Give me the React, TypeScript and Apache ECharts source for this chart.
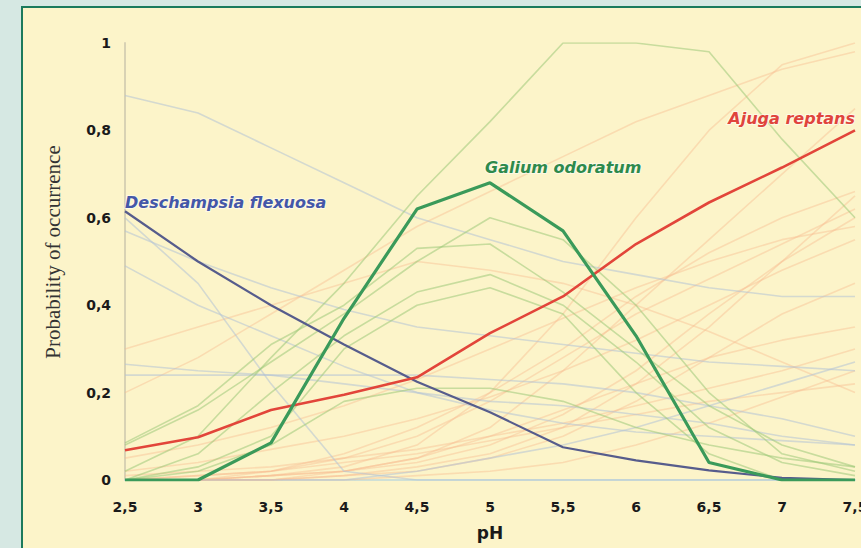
import React, { useEffect, useRef } from "react";
import * as echarts from "echarts";

const PH = [2.5, 3, 3.5, 4, 4.5, 5, 5.5, 6, 6.5, 7, 7.5];
const Y_TICKS = [0, 0.2, 0.4, 0.6, 0.8, 1];

const DESCHAMPSIA = [0.615, 0.5, 0.4, 0.31, 0.225, 0.155, 0.075, 0.045, 0.022, 0.005, 0];
const AJUGA = [0.068, 0.098, 0.16, 0.195, 0.235, 0.336, 0.42, 0.54, 0.635, 0.715, 0.8];
const GALIUM = [0, 0, 0.085, 0.37, 0.62, 0.68, 0.57, 0.33, 0.04, 0, 0];

const BG_GREEN = [
  [0.02, 0.1, 0.28, 0.45, 0.65, 0.82, 1.0, 1.0, 0.98, 0.78, 0.6],
  [0.085, 0.17, 0.31, 0.4, 0.53, 0.54, 0.43, 0.3, 0.17, 0.08, 0.03],
  [0.0, 0.06, 0.2, 0.33, 0.43, 0.47, 0.4, 0.27, 0.12, 0.04, 0.01],
  [0.0, 0.03, 0.1, 0.3, 0.4, 0.44, 0.38, 0.2, 0.06, 0.0, 0.0],
  [0.0, 0.02, 0.08, 0.18, 0.21, 0.21, 0.18, 0.12, 0.08, 0.05, 0.03],
  [0.08, 0.16, 0.27, 0.38, 0.5, 0.6, 0.55, 0.4, 0.2, 0.06, 0.02],
];

const BG_BLUE = [
  [0.88, 0.84, 0.76, 0.68, 0.6, 0.55, 0.5, 0.47, 0.44, 0.42, 0.42],
  [0.6, 0.45, 0.22, 0.02, 0, 0, 0, 0, 0, 0, 0],
  [0.49, 0.4, 0.33, 0.26, 0.2, 0.16, 0.13, 0.11, 0.1, 0.09, 0.08],
  [0.265, 0.25, 0.24, 0.22, 0.2, 0.18, 0.17, 0.15, 0.13, 0.1, 0.08],
  [0.24, 0.24, 0.24, 0.24, 0.24, 0.23, 0.22, 0.2, 0.17, 0.14, 0.1],
  [0.0, 0.0, 0.0, 0.0, 0.02, 0.05, 0.08, 0.12, 0.17, 0.22, 0.27],
  [0.57, 0.5, 0.44, 0.39, 0.35, 0.33, 0.31, 0.29, 0.27, 0.26, 0.25],
];

const BG_ORANGE = [
  [0, 0, 0.01, 0.03, 0.08, 0.2, 0.38, 0.6, 0.8, 0.95, 1.0],
  [0, 0, 0, 0.02, 0.05, 0.12, 0.25, 0.4, 0.55, 0.7, 0.85],
  [0, 0.01, 0.02, 0.05, 0.1, 0.18, 0.28, 0.38, 0.46, 0.54, 0.62],
  [0, 0, 0.01, 0.02, 0.04, 0.08, 0.15, 0.25, 0.38, 0.5, 0.6],
  [0.02, 0.04, 0.07, 0.1, 0.14, 0.19, 0.25, 0.32, 0.4, 0.48, 0.55],
  [0, 0, 0, 0.01, 0.02, 0.05, 0.1, 0.18, 0.28, 0.38, 0.45],
  [0, 0, 0.01, 0.02, 0.05, 0.1, 0.16, 0.22, 0.28, 0.32, 0.35],
  [0.01, 0.02, 0.03, 0.05, 0.07, 0.1, 0.13, 0.17, 0.21, 0.25, 0.3],
  [0, 0, 0, 0, 0.01, 0.02, 0.04, 0.08, 0.13, 0.19, 0.25],
  [0.2, 0.28, 0.38, 0.48, 0.58, 0.66, 0.74, 0.82, 0.88, 0.94, 0.98],
  [0.05, 0.08, 0.12, 0.17, 0.23, 0.3, 0.37, 0.44, 0.5, 0.55, 0.58],
  [0, 0, 0, 0.01, 0.03, 0.06, 0.12, 0.22, 0.35, 0.5, 0.65],
  [0.0, 0.01, 0.02, 0.04, 0.06, 0.09, 0.12, 0.15, 0.18, 0.2, 0.22],
  [0.0, 0.0, 0.02, 0.06, 0.12, 0.2, 0.3, 0.42, 0.52, 0.6, 0.66],
  [0.3, 0.35, 0.4, 0.45, 0.5, 0.48, 0.45, 0.4, 0.34, 0.27, 0.2],
];

const pairs = (vals: number[]) => PH.map((x, i) => [x, vals[i]]);
const comma = (v: number) => String(v).replace(".", ",");

export default function App() {
  const ref = useRef<HTMLDivElement>(null);
  useEffect(() => {
    if (!ref.current) return;
    const chart = echarts.init(ref.current, undefined, { renderer: "svg" });
    const bg = (vals: number[], color: string, opacity: number) => ({
      type: "line",
      data: pairs(vals),
      showSymbol: false,
      silent: true,
      lineStyle: { color, width: 1.6, opacity },
    });
    const labelled = (
      vals: number[],
      color: string,
      width: number,
      labelIdx: number,
      text: string,
      labelColor: string,
      align: string,
      distance: number,
      offset: number[]
    ) => ({
      type: "line",
      symbol: "circle",
      symbolSize: 0,
      showSymbol: true,
      silent: true,
      lineStyle: { color, width },
      itemStyle: { color },
      data: pairs(vals).map((p, i) =>
        i === labelIdx
          ? {
              value: p,
              label: {
                show: true,
                position: "top",
                distance,
                offset,
                align,
                formatter: text,
                color: labelColor,
                fontFamily: "DejaVu Sans",
                fontWeight: "bold",
                fontStyle: "italic",
                fontSize: 16,
                textBorderColor: "rgba(255,255,255,0.55)",
                textBorderWidth: 2,
              },
            }
          : { value: p }
      ),
    });
    const series: any[] = [
      ...BG_ORANGE.map((v) => bg(v, "#f7b98e", 0.42)),
      ...BG_BLUE.map((v) => bg(v, "#b3c3d6", 0.55)),
      ...BG_GREEN.map((v) => bg(v, "#9cc878", 0.55)),
      labelled(DESCHAMPSIA, "#565c8c", 2.2, 0, "Deschampsia flexuosa", "#4457a8", "left", 1, [0, 0]),
      labelled(AJUGA, "#e2453a", 2.6, 10, "Ajuga reptans", "#e0443c", "right", 4, [0, 0]),
      labelled(GALIUM, "#3a9a5a", 3.2, 5, "Galium odoratum", "#2e8a4c", "left", 7, [-5, 0]),
    ];
    chart.setOption({
      animation: false,
      backgroundColor: "transparent",
      grid: {
        left: 125,
        right: 6,
        top: 43,
        bottom: 68,
        containLabel: false,
        outerBoundsMode: "none",
      },
      xAxis: {
        type: "value",
        min: 2.5,
        max: 7.5,
        interval: 0.5,
        name: "pH",
        nameLocation: "middle",
        nameGap: 44,
        nameTextStyle: { fontFamily: "DejaVu Sans", fontWeight: "bold", fontSize: 17, color: "#1a1a1a" },
        axisLine: { show: true, lineStyle: { color: "#cfe0d6", width: 2 } },
        axisTick: { show: false },
        splitLine: { show: false },
        axisLabel: {
          margin: 20,
          formatter: (v: number) => comma(v),
          fontFamily: "DejaVu Sans",
          fontWeight: "bold",
          fontSize: 14,
          color: "#1a1a1a",
        },
      },
      yAxis: {
        type: "value",
        min: Y_TICKS[0],
        max: Y_TICKS[Y_TICKS.length - 1],
        interval: 0.2,
        axisLine: { show: true, lineStyle: { color: "#d8d2b4", width: 2 } },
        axisTick: { show: false },
        splitLine: { show: false },
        axisLabel: {
          margin: 14,
          formatter: (v: number) => comma(Math.round(v * 10) / 10),
          fontFamily: "DejaVu Sans",
          fontWeight: "bold",
          fontSize: 14,
          color: "#1a1a1a",
        },
      },
      graphic: [
        {
          type: "text",
          x: 53,
          y: 252,
          rotation: Math.PI / 2,
          style: {
            text: "Probability of occurrence",
            fontFamily: "Liberation Serif",
            fontSize: 21,
            fill: "#333",
            align: "center",
            verticalAlign: "middle",
          },
        },
      ],
      series,
    });
    return () => chart.dispose();
  }, []);
  return (
    <div
      style={{
        position: "fixed",
        left: 0,
        top: 0,
        width: 861,
        height: 548,
        background: "#d6e8e3",
        overflow: "hidden",
      }}
    >
      <div
        style={{
          position: "absolute",
          left: 21,
          top: 6,
          width: 900,
          height: 600,
          background: "#fcf4c9",
          border: "2px solid #1b7a5c",
          boxSizing: "border-box",
        }}
      />
      <div ref={ref} style={{ position: "absolute", left: 0, top: 0, width: 861, height: 548 }} />
    </div>
  );
}
